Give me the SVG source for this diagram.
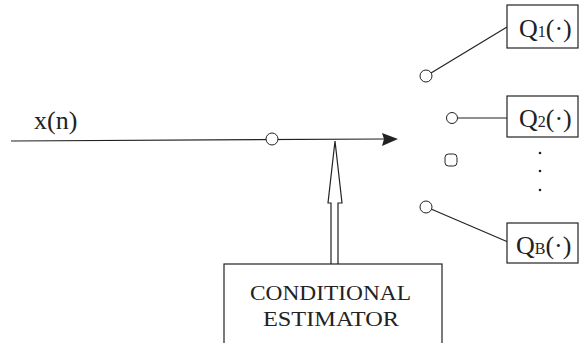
<svg xmlns="http://www.w3.org/2000/svg" width="580" height="343" viewBox="0 0 580 343">
<style>
.ln{stroke:#222;stroke-width:1.2;fill:none}
.box{stroke:#222;stroke-width:1.2;fill:#fff}
.ct{stroke:#222;stroke-width:1;fill:#fff}
.t{font-family:"Liberation Serif","Times New Roman",serif;fill:#222}
.dot{fill:#222}
</style>
<g id="connectors">
<line class="ln" x1="11" y1="141" x2="384" y2="139"/>
<polygon points="398,139 382,133 384,139 382,146" fill="#222"/>
<line class="ln" x1="431" y1="73" x2="507" y2="27"/>
<line class="ln" x1="458" y1="118" x2="507" y2="118"/>
<line class="ln" x1="431" y1="209" x2="508" y2="242"/>
<path class="ln" d="M331,264 V203 H328 L335,141 L342,203 H338 V264" style="fill:#fff"/>
</g>
<g id="input-label"><text class="t" x="34" y="129" font-size="26">x(n)</text></g>
<g id="contact-input"><circle class="ct" cx="272" cy="139" r="6"/></g>
<g id="contact-1"><circle class="ct" cx="426" cy="76" r="6"/></g>
<g id="contact-2"><circle class="ct" cx="452" cy="118" r="5.5"/></g>
<g id="contact-mid"><rect class="ct" x="445" y="154" width="12" height="12" rx="3.5"/></g>
<g id="contact-B"><circle class="ct" cx="426" cy="207" r="6"/></g>
<g id="Q1"><rect class="box" x="507" y="5" width="71" height="43"/>
<text class="t" x="519" y="37" font-size="26">Q<tspan font-size="16">1</tspan>(·)</text></g>
<g id="Q2"><rect class="box" x="507" y="96" width="71" height="41"/>
<text class="t" x="519" y="127" font-size="26">Q<tspan font-size="16">2</tspan>(·)</text></g>
<g id="QB"><rect class="box" x="507" y="223" width="71" height="40"/>
<text class="t" x="516" y="254" font-size="26">Q<tspan font-size="16">B</tspan>(·)</text></g>
<g id="dots"><circle class="dot" cx="540" cy="153" r="1.3"/><circle class="dot" cx="540" cy="171" r="1.3"/><circle class="dot" cx="540" cy="190" r="1.3"/></g>
<g id="estimator"><rect class="box" x="224" y="264" width="218" height="90"/>
<text class="t" x="250" y="300" font-size="22" textLength="161" lengthAdjust="spacingAndGlyphs">CONDITIONAL</text>
<text class="t" x="263" y="326" font-size="22" textLength="136" lengthAdjust="spacingAndGlyphs">ESTIMATOR</text></g>
</svg>
